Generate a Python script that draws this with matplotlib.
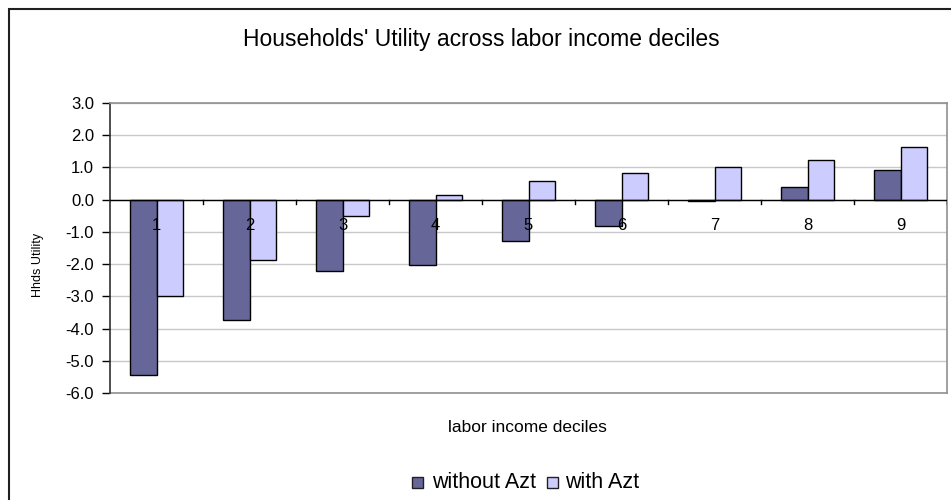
import matplotlib
matplotlib.use("Agg")
import matplotlib.pyplot as plt
import numpy as np
from matplotlib.patches import Rectangle
from matplotlib.lines import Line2D

plt.rcParams['font.family'] = ['Liberation Sans', 'DejaVu Sans']

categories = ["1", "2", "3", "4", "5", "6", "7", "8", "9"]
without_azt = [-5.43, -3.72, -2.22, -2.02, -1.29, -0.83, -0.05, 0.40, 0.93]
with_azt = [-3.00, -1.86, -0.52, 0.15, 0.57, 0.83, 1.02, 1.24, 1.65]
series_names = ["without Azt", "with Azt"]
yticks = [3.0, 2.0, 1.0, 0.0, -1.0, -2.0, -3.0, -4.0, -5.0, -6.0]
colors = ['#666699', '#CCCCFF']

W, H = 951, 500
fig = plt.figure(figsize=(W / 100, H / 100), dpi=100)

# outer chart border
fig.patches.append(Rectangle((8.5 / W, -0.05), 1.2, (H - 9.0) / H + 0.05,
                             transform=fig.transFigure, fill=False,
                             edgecolor='#202020', linewidth=1.5))

left, right, top, bottom = 110, 947, 103, 393
ax = fig.add_axes([left / W, 1 - bottom / H, (right - left) / W, (bottom - top) / H])

n = len(categories)
x = np.arange(n)
bw = 0.286
ax.bar(x - bw / 2, without_azt, bw, color=colors[0], edgecolor='black', linewidth=1.0, zorder=3)
ax.bar(x + bw / 2, with_azt, bw, color=colors[1], edgecolor='black', linewidth=1.0, zorder=3)

ax.set_xlim(-0.5, n - 0.5)
ax.set_ylim(-6, 3)
ax.set_yticks(yticks)
ax.set_yticklabels([f"{v:.1f}" for v in yticks], fontsize=12)
ax.tick_params(axis='y', direction='out', length=6, width=1, pad=5.5, colors='black')
ax.yaxis.grid(True, color='#c8c8c8', linewidth=1.0, zorder=0)

for s in ['top', 'right']:
    ax.spines[s].set_color('#909090')
    ax.spines[s].set_linewidth(1.2)
ax.spines['left'].set_color('#303030')
ax.spines['left'].set_linewidth(1.2)
ax.spines['bottom'].set_visible(False)
ax.add_line(Line2D([0, 1], [0, 0], transform=ax.transAxes, color='#909090',
                   linewidth=1.2, clip_on=False))

# category axis at zero
ax.axhline(0, color='black', linewidth=1.0, zorder=4)
ax.set_xticks([])
for b in np.arange(0.5, n, 1.0):
    ax.add_line(Line2D([b, b], [0, -0.12], color='black', linewidth=1.0, zorder=4))

for i, c in enumerate(categories):
    ax.text(i, -0.8, c, ha='center', va='center', fontsize=12, zorder=5)

ax.set_ylabel("Hhds Utility", fontsize=9)
ax.yaxis.set_label_coords(-(left - 44) / (right - left), (bottom - 265) / (bottom - top))

fig.text(481.5 / W, 1 - 46 / H, "Households' Utility across labor income deciles",
         ha='center', va='baseline', fontsize=16.5)
fig.text(527.5 / W, 1 - 432 / H, "labor income deciles", ha='center', va='baseline', fontsize=12.5)

# legend
def legend_item(cx, tx, color, label):
    fig.patches.append(Rectangle(((cx - 5.5) / W, 1 - (482.5 + 5.5) / H), 11 / W, 11 / H,
                                 transform=fig.transFigure, facecolor=color,
                                 edgecolor='#202020', linewidth=1.0))
    fig.text(tx / W, 1 - 488 / H, label, ha='left', va='baseline', fontsize=15.5)

legend_item(417.5, 432, colors[0], series_names[0])
legend_item(552.5, 565, colors[1], series_names[1])

fig.savefig("out.png", dpi=100)
